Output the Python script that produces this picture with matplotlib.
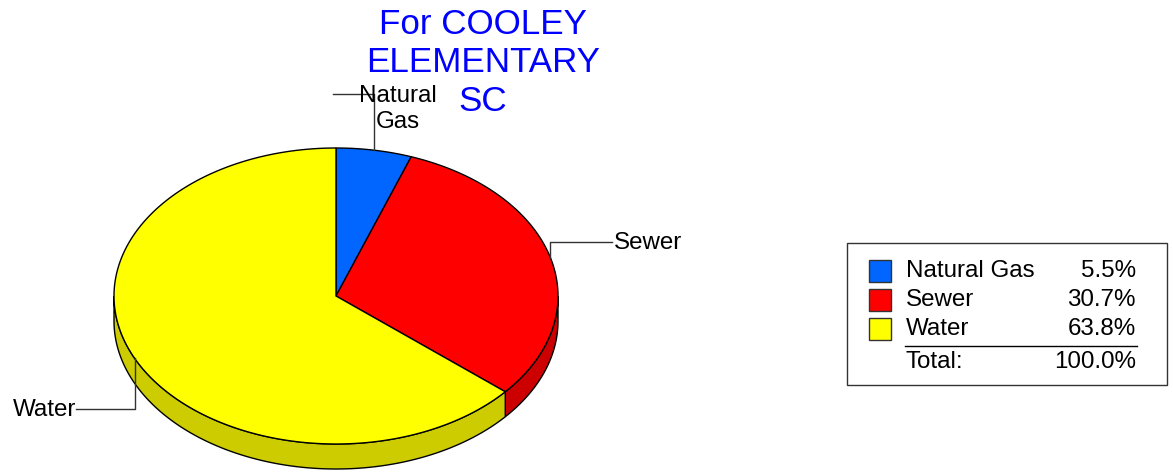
import numpy as np
import matplotlib.pyplot as plt
from matplotlib.patches import Polygon, Rectangle

plt.rcParams['font.family'] = ['Liberation Sans', 'DejaVu Sans']

# ---- data ----
labels = ['Natural Gas', 'Sewer', 'Water']
shares = [5.5, 30.7, 63.8]
top_colors = ['#0066FF', '#FF0000', '#FFFF00']
side_colors = ['#0052CC', '#CC0000', '#CCCC00']
title = 'For COOLEY\nELEMENTARY\nSC'

# ---- pie geometry (pixels, y down) ----
cx, cy = 336, 296
rx, ry = 222, 148
depth = 25


def pt(t, dy=0):
    t = np.radians(t)
    return cx + rx * np.sin(t), cy - ry * np.cos(t) + dy


def arc(t0, t1, dy=0, n=200):
    ts = np.linspace(t0, t1, n)
    return np.column_stack(pt(ts, dy))


fig = plt.figure(figsize=(11.73, 4.73), dpi=100)
ax = fig.add_axes([0, 0, 1, 1])
ax.set_xlim(0, 1173)
ax.set_ylim(473, 0)
ax.axis('off')

bounds = np.concatenate([[0], np.cumsum(shares)]) / sum(shares) * 360

# side walls (front half only: 90..270 deg clockwise from top)
for i in range(len(shares)):
    a = max(bounds[i], 90)
    b = min(bounds[i + 1], 270)
    if b <= a:
        continue
    top = arc(a, b)
    bot = arc(b, a, depth)
    ax.add_patch(Polygon(np.vstack([top, bot]), closed=True,
                         facecolor=side_colors[i], edgecolor='black', lw=1))

# top faces
for i in range(len(shares)):
    pts = np.vstack([[cx, cy], arc(bounds[i], bounds[i + 1])])
    ax.add_patch(Polygon(pts, closed=True, facecolor=top_colors[i],
                         edgecolor='black', lw=1))

# leader lines + labels
mids = (bounds[:-1] + bounds[1:]) / 2
lc = '#333333'
fs = 17.4

x0, y0 = pt(mids[0])
ax.plot([x0, x0, 333], [y0, 94, 94], color=lc, lw=1)
ax.text(398, 109, 'Natural\nGas', ha='center', va='center', fontsize=fs,
        linespacing=1.27)

x1, y1 = pt(mids[1])
ax.plot([x1, x1, 612], [y1, 242, 242], color=lc, lw=1)
ax.text(614, 243, labels[1], ha='left', va='center', fontsize=fs)

x2, y2 = pt(mids[2])
ax.plot([x2, x2, 76], [y2, 409, 409], color=lc, lw=1)
ax.text(76, 410, labels[2], ha='right', va='center', fontsize=fs)

# title
ax.text(483, 8, title, ha='center', va='top', fontsize=25.2,
        color='#0000FF', linespacing=1.21)

# legend
ax.add_patch(Rectangle((846.5, 242.5), 320, 142, facecolor='white',
                       edgecolor='#333333', lw=1))
row_y = [271, 300, 329]
for i in range(len(shares)):
    ax.add_patch(Rectangle((868.5, row_y[i] - 11), 22, 22,
                           facecolor=top_colors[i], edgecolor='#333333', lw=1))
    ax.text(906, row_y[i], labels[i], ha='left', va='center', fontsize=fs)
    ax.text(1136, row_y[i], f'{shares[i]:.1f}%', ha='right', va='center',
            fontsize=fs)
ax.plot([905, 1137], [345.5, 345.5], color='black', lw=1)
ax.text(906, 362, 'Total:', ha='left', va='center', fontsize=fs)
ax.text(1136, 362, f'{sum(shares):.1f}%', ha='right', va='center', fontsize=fs)

fig.savefig('out.png', dpi=100)
